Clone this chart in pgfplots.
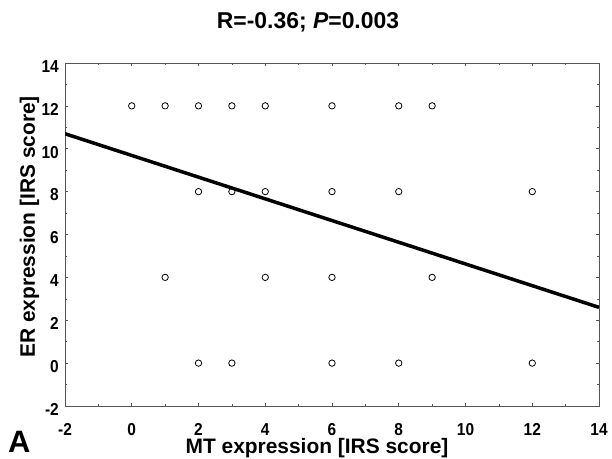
\documentclass[border=0pt]{standalone}
\usepackage{fontspec}
\setmainfont{Liberation Sans}
\usepackage{pgfplots}
\pgfplotsset{compat=1.18}
\definecolor{axisgray}{RGB}{85,85,85}

\begin{document}
\begin{tikzpicture}[x=1bp,y=1bp]
\useasboundingbox (-65,-53) rectangle (547,406);
\begin{axis}[
  at={(0,0)},
  anchor=south west,
  scale only axis,
  width=534bp,
  height=343bp,
  xmin=-2, xmax=14,
  ymin=-2, ymax=14,
  xtick distance=2,
  ytick distance=2,
  minor tick num=1,
  tick align=inside,
  major tick length=3bp,
  minor tick length=2bp,
  axis line style={axisgray, line width=0.8bp},
  tick style={axisgray, line width=0.6bp},
  ticklabel style={font=\bfseries\fontsize{15.5}{15.5}\selectfont, inner sep=0pt, yscale=1.12},
  /pgf/number format/assume math mode=true,
  xticklabel style={anchor=base, yshift=-26bp},
  yticklabel style={anchor=east, xshift=-6bp, yshift=-3bp},
]
\addplot[only marks, mark=o, mark size=3.2bp,
  mark options={black, line width=0.8bp}]
  coordinates {
    (0,12) (1,12) (2,12) (3,12) (4,12) (6,12) (8,12) (9,12)
    (2,8) (3,8) (4,8) (6,8) (8,8) (12,8)
    (1,4) (4,4) (6,4) (9,4)
    (2,0) (3,0) (6,0) (8,0) (12,0)
  };
\addplot[black, line width=3.5bp] coordinates {(-2,10.7) (14,2.6)};
\end{axis}

\node[anchor=base, inner sep=0pt, font=\bfseries\fontsize{23}{23}\selectfont]
  at (243,377) {R=-0.36; \textit{P}=0.003};
\node[anchor=base, inner sep=0pt, font=\bfseries\fontsize{21}{21}\selectfont]
  at (252,-48) {MT expression [IRS score]};
\node[anchor=base west, rotate=90, inner sep=0pt, font=\bfseries\fontsize{21}{21}\selectfont]
  at (-30,48) {ER expression [IRS score]};
\node[anchor=base west, inner sep=0pt, font=\bfseries\fontsize{31}{31}\selectfont]
  at (-57,-47) {A};
\end{tikzpicture}
\end{document}
